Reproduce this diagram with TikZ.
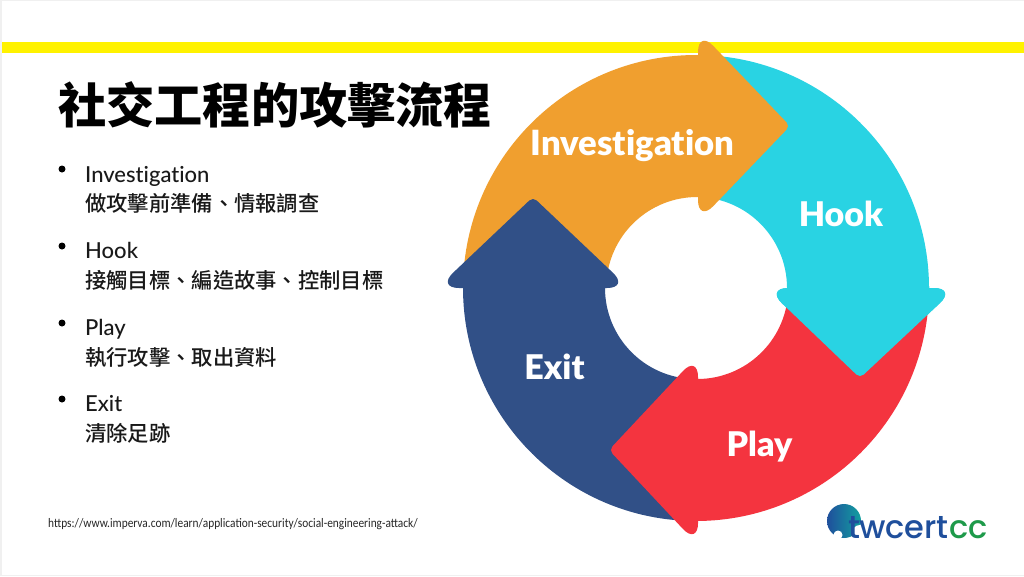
\documentclass[tikz,border=0pt]{standalone}
\usepackage{fontspec}
\setmainfont{Lato Medium}[Ligatures=NoCommon]
\newfontfamily\cjk{Noto Sans CJK TC Medium}
\newfontfamily\labelfont{Lato Black}[Ligatures=NoCommon]
\newfontfamily\urlfont{Carlito}[FakeStretch=0.875]
\newfontfamily\logofont{Poppins Medium}[LetterSpace=-1]
\definecolor{orangeseg}{HTML}{F09F2F}
\definecolor{cyanseg}{HTML}{29D3E3}
\definecolor{redseg}{HTML}{F4343F}
\definecolor{blueseg}{HTML}{315087}
\definecolor{logoblue}{HTML}{1F4F9C}
\definecolor{logoteal}{HTML}{12A0A0}
\definecolor{logogreen}{HTML}{1E9A4A}
\tikzstyle{seglabel}=[text=white, font=\fontsize{34}{34}\selectfont\labelfont, inner sep=0pt]
\tikzstyle{itemhead}=[anchor=base west, inner sep=0pt, font=\fontsize{22}{22}\selectfont, text=black!90]
\tikzstyle{itemtext}=[anchor=base west, inner sep=0pt, font=\fontsize{21.3}{21.3}\selectfont\cjk, text=black!90]
\tikzstyle{itemdot}=[fill=black, circle, inner sep=0pt, minimum size=7pt]
\newcommand{\cyanhead}{%
    \fill[cyanseg] (787, -286) -- (787, -288)
        [rounded corners=22pt] -- (766, -288)
        [rounded corners=5pt] -- (860, -378)
        [rounded corners=22pt] -- (956, -288)
        [sharp corners] -- (929, -288) -- (929, -286) -- cycle;}
\begin{document}
\begin{tikzpicture}[x=1pt, y=1pt]
        \useasboundingbox (0, 0) rectangle (1024, -576);
        \fill[black!6] (0, 0) rectangle (1024, -576);
        \fill[white] (2, -1) rectangle (1024, -575);
        \fill[yellow] (2, -42) rectangle (1024, -53);
        \coordinate (ctr) at (696, -288);
        % ring
        \fill[cyanseg] ([shift={(ctr)}]88:233) arc (88:0:233) -- (787, -288)
            arc (0:88:91) -- cycle;
        \cyanhead
        \fill[orangeseg] ([shift={(ctr)}]178:233) arc (178:89.5:233)
            [rounded corners=22pt] -- (698, -30)
            [rounded corners=5pt] -- (790, -126)
            [rounded corners=22pt] -- (698, -222)
            [sharp corners] -- (698, -197)
            arc (89.5:178:91) -- cycle;
        \fill[blueseg] ([shift={(ctr)}]268:233) arc (268:180:233)
            [rounded corners=22pt] -- (437, -288)
            [rounded corners=5pt] -- (533, -197)
            [rounded corners=22pt] -- (629, -288)
            [sharp corners] -- (605, -288)
            arc (180:268:91) -- cycle;
        \fill[redseg] ([shift={(ctr)}]-3:233) arc (-3:-89.5:233)
            [rounded corners=22pt] -- (698, -545)
            [rounded corners=5pt] -- (609, -450)
            [rounded corners=22pt] -- (698, -355)
            [sharp corners] -- (698, -379)
            arc (-89.5:-3:91) -- cycle;
        \cyanhead
        \node[seglabel, font=\fontsize{34.7}{34.7}\selectfont\labelfont] (investigation) at (632.5, -146) {Investigation};
        \node[seglabel] (hook) at (841, -214) {Hook};
        \node[seglabel] (play) at (759.5, -447) {Play};
        \node[seglabel] (exit) at (554.5, -367) {Exit};
        % text column
        \node[anchor=base west, inner sep=0pt, font=\fontsize{48.2}{48}\selectfont\cjk\bfseries] (title) at (58, -123) {社交工程的攻擊流程};
        \node[itemdot] (dot1) at (62, -169) {};
        \node[itemhead] (item1) at (85, -182) {Investigation};
        \node[itemtext] (text1) at (85, -211) {做攻擊前準備、情報調查};
        \node[itemdot] (dot2) at (62, -246) {};
        \node[itemhead] (item2) at (85, -258) {Hook};
        \node[itemtext] (text2) at (85, -288) {接觸目標、編造故事、控制目標};
        \node[itemdot] (dot3) at (62, -323) {};
        \node[itemhead] (item3) at (85, -335) {Play};
        \node[itemtext] (text3) at (85, -365) {執行攻擊、取出資料};
        \node[itemdot] (dot4) at (62, -399) {};
        \node[itemhead] (item4) at (85, -411) {Exit};
        \node[itemtext] (text4) at (85, -441) {清除足跡};
        \node[anchor=base west, inner sep=0pt, font=\fontsize{13}{13}\selectfont\urlfont, text=black!85] (source) at (48, -527) {https://www.imperva.com/learn/application-security/social-engineering-attack/};
        % logo
        \shade[left color=logoblue, right color=logoteal] (844, -521) circle (17);
        \fill[white] (838, -535) circle (4.5);
        \fill[white] (860, -533) circle (8);
        \node[anchor=base west, inner sep=0pt, font=\fontsize{32}{32}\selectfont\logofont, text=logoblue] (logotw) at (848, -538) {twcert};
        \node[anchor=base west, inner sep=0pt, font=\fontsize{32}{32}\selectfont\logofont, text=logogreen] (logocc) at (949, -538) {cc};
    \end{tikzpicture}
\end{document}
